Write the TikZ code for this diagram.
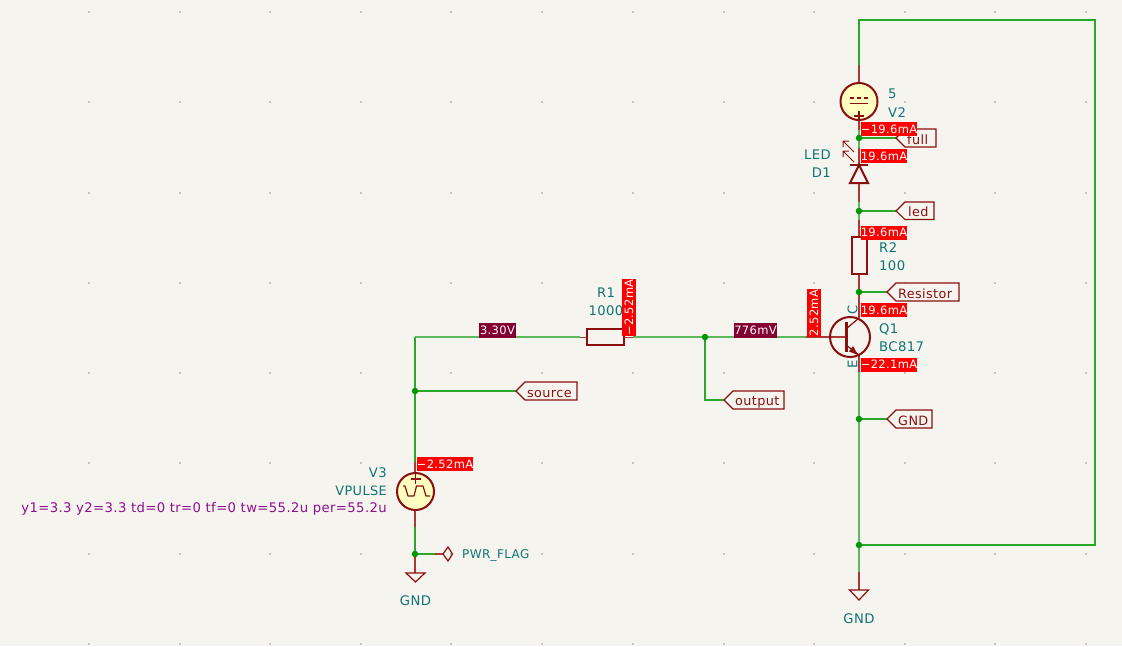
\documentclass[tikz,border=0pt]{standalone}
\usepackage{fontspec}
\setmainfont[LetterSpace=3]{DejaVu Sans}
\usetikzlibrary{arrows.meta}
\definecolor{bgc}{HTML}{F5F4EF}
\definecolor{wirec}{HTML}{2AA82A}
\definecolor{wirep}{HTML}{5CBA5C}
\definecolor{juncc}{HTML}{009600}
\definecolor{symc}{HTML}{8A0F0F}
\definecolor{pinc}{HTML}{A83A3A}
\definecolor{fillc}{HTML}{FFFFC2}
\definecolor{refc}{HTML}{107474}
\definecolor{parc}{HTML}{8E108E}
\definecolor{voltc}{HTML}{840032}
\definecolor{gridc}{HTML}{C4C4C0}
\newcommand{\fs}{\fontsize{13.2}{16}\selectfont}
\newcommand{\fsl}{\fontsize{12.8}{16}\selectfont}
\newcommand{\fsp}{\fontsize{12}{16}\selectfont}
\newcommand{\fst}{\fontsize{11.5}{14}\selectfont}
\tikzset{
  wire/.style={draw=wirec,line width=1.1pt},
  wirem/.style={draw=wirep,line width=1.6pt},
  pinl/.style={draw=pinc,line width=1.2pt},
  body/.style={draw=symc,line width=2pt,line join=miter},
  sym/.style={draw=symc,line width=1.2pt},
  junct/.style={circle,fill=juncc,inner sep=0pt,minimum size=6.5pt},
  lab/.style={draw=symc,line width=1.1pt,line join=miter,fill=bgc},
  ltxt/.style={text=symc,inner sep=0pt,font=\fsl,anchor=west,yshift=-1pt},
  reft/.style={text=refc,inner sep=0pt,font=\fs,yshift=-1pt},
  reftr/.style={text=refc,inner sep=0pt,font=\fs},
  part/.style={text=parc,inner sep=0pt,font=\fs,yshift=-1pt},
  tagbox/.style={fill=red,text=white,inner sep=0pt,font=\fst,minimum height=14pt},
  volt/.style={fill=voltc,text=white,inner sep=0pt,font=\fst,minimum height=15pt},
}
\begin{document}
\begin{tikzpicture}[x=1pt,y=-1pt]
\path[fill=bgc] (0,0) rectangle (1122,646);
\useasboundingbox (0,0) rectangle (1122,646);
% grid
\foreach \gx in {89,180,270,361,451,542,633,724,814,905,995,1086}
  \foreach \gy in {12,102,193,283,373,463,554,644}
    \fill[gridc] (\gx-.7,\gy-.7) rectangle (\gx+.7,\gy+.7);

% named points
\coordinate (jfullc) at (859,138);
\coordinate (tl) at (859,20);
\coordinate (tr) at (1095,20);
\coordinate (br) at (1095,545);
\coordinate (v2top) at (859,65);
\coordinate (v2bot) at (859,120);
\coordinate (dtop) at (859,148);
\coordinate (dbot) at (859,202);
\coordinate (r2top) at (859,220);
\coordinate (r2bot) at (859,274);
\coordinate (ctop) at (859,300);
\coordinate (etop) at (859,372);
\coordinate (gndr) at (859,572);
\coordinate (gndl) at (415,573);
\coordinate (v3top) at (415,462);
\coordinate (v3bot) at (415,527);
\coordinate (r1l) at (580,337);
\coordinate (r1r) at (633,337);
\coordinate (qb) at (806,337);
\coordinate (corner) at (415,337);
\coordinate (oc) at (705,400);
\coordinate (tfull) at (896,138);
\coordinate (tled) at (896,211);
\coordinate (tres) at (887,292);
\coordinate (tgnd) at (887,419);
\coordinate (tsrc) at (516,391);
\coordinate (tout) at (724,400);
\coordinate (pf) at (435,554);
\coordinate (pfe) at (443,554);
\coordinate (jbotc) at (859,545);
\coordinate (jledc) at (859,211);
\coordinate (jresc) at (859,292);
\coordinate (jgndc) at (859,419);
\coordinate (joutc) at (705,337);
\coordinate (jsrcc) at (415,391);
\coordinate (jlowc) at (415,554);

% wires
\draw[wire] (v2top) -- (tl) -- (tr) -- (br) -- (jbotc);
\draw[wirem] (v2bot) -- (dtop);
\draw[wirem] (dbot) -- (r2top);
\draw[wirem] (r2bot) -- (ctop);
\draw[wirem] (etop) -- (gndr);
\draw[wire] (jfullc) -- (tfull);
\draw[wire] (jledc) -- (tled);
\draw[wire] (jresc) -- (tres);
\draw[wire] (jgndc) -- (tgnd);
\draw[wire] (jsrcc) -- (tsrc);
\draw[wire] (joutc) -- (oc) -- (tout);
\draw[wire] (v3top) -- (corner);
\draw[wirem] (corner) -- (r1l);
\draw[wirem] (r1r) -- (qb);
\draw[wire] (v3bot) -- (jlowc) -- (pf);

% symbol pins
\draw[pinl] (v2top) -- (859,83);
\draw[pinl] (v2bot) -- (859,130);
\draw[pinl] (dtop) -- (859,165);
\draw[pinl] (859,183) -- (dbot);
\draw[pinl] (r2top) -- (859,237);
\draw[pinl] (r2bot) -- (ctop);
\draw[pinl] (ctop) -- (859,318);
\draw[pinl] (859,355) -- (etop);
\draw[pinl] (v3top) -- (415,473);
\draw[pinl] (415,510) -- (v3bot);
\draw[pinl,line width=1pt] (r1l) -- (587,337);
\draw[pinl,line width=1pt] (624,337) -- (r1r);
\draw[pinl] (qb) -- (846,337);
\draw[pinl] (pf) -- (pfe);
\draw[pinl] (jlowc) -- (gndl);
\draw[pinl] (gndr) -- (859,590);

% junctions
\node[junct] (jfull) at (jfullc) {};
\node[junct] (jled) at (jledc) {};
\node[junct] (jres) at (jresc) {};
\node[junct] (jgnd) at (jgndc) {};
\node[junct] (jbot) at (jbotc) {};
\node[junct] (jout) at (joutc) {};
\node[junct] (jsrc) at (jsrcc) {};
\node[junct] (jlow) at (jlowc) {};

% V2
\draw[body,fill=fillc] (859,101.5) circle (18.5);
\draw[sym] (850,98) -- (854,98) (857,98) -- (861,98) (864,98) -- (868,98);
\draw[sym] (850,103.5) -- (868,103.5);
\draw[sym] (854,116) -- (864,116) (859,111) -- (859,120);
% LED
\draw[body] (850,165) -- (868,165);
\draw[body] (859,165) -- (868,183) -- (850,183) -- cycle;
\draw[sym,line width=1pt] (854,152) -- (843,141) (843,147) -- (843,141) -- (849,141);
\draw[sym,line width=1pt] (854,162) -- (843,151) (843,157) -- (843,151) -- (849,151);
% R2, R1
\draw[body] (852,237) rectangle (867,274);
\draw[body] (587,329) rectangle (624,345);
% Q1
\draw[body] (850,337) circle (20);
\draw[symc,line width=3pt] (846,322) -- (846,352);
\draw[sym] (846,329) -- (859,318);
\draw[sym] (846,345) -- (859,355);
\fill[symc] (858,355) -- (849,351.5) -- (853,346) -- cycle;
% V3
\draw[body,fill=fillc] (415.5,491.5) circle (18.5);
\draw[sym] (410.5,479) -- (420.5,479) (415.5,474) -- (415.5,484);
\draw[sym,line join=round] (403,486) -- (405,486) -- (408,496) -- (414,496) -- (416.5,486) -- (423,486) -- (426,496) -- (430,496);
% PWR_FLAG
\draw[sym] (443,554) -- (448,547) -- (452.5,554) -- (448,561) -- cycle;
% GND symbols
\draw[sym] (406,573) -- (425,573) -- (415.5,582) -- cycle;
\draw[sym] (849.5,590) -- (868.5,590) -- (859,600) -- cycle;

% hierarchical labels
\draw[lab] (tfull) -- (905,129) -- (936,129) -- (936,147) -- (905,147) -- cycle;
\draw[lab] (tled) -- (905,202) -- (934,202) -- (934,219.5) -- (905,219.5) -- cycle;
\draw[lab] (tres) -- (896,283) -- (959,283) -- (959,301) -- (896,301) -- cycle;
\draw[lab] (tgnd) -- (896,410) -- (932,410) -- (932,428) -- (896,428) -- cycle;
\draw[lab] (tsrc) -- (525,382) -- (577,382) -- (577,400) -- (525,400) -- cycle;
\draw[lab] (tout) -- (733,391) -- (784,391) -- (784,409) -- (733,409) -- cycle;
\node[ltxt] (lfull) at (907,139) {full};
\node[ltxt] (lled) at (908,211) {led};
\node[ltxt] (lres) at (898,292.5) {Resistor};
\node[ltxt] (lgnd) at (898,419.5) {GND};
\node[ltxt] (lsrc) at (527,392.5) {source};
\node[ltxt] (lout) at (735,401.5) {output};

% reference texts
\node[reft,anchor=west] (t5) at (888,93) {5};
\node[reft,anchor=west] (tv2) at (888,111.5) {V2};
\node[reft,anchor=east] (tledn) at (831,154) {LED};
\node[reft,anchor=east] (td1) at (831,172) {D1};
\node[reft,anchor=west] (tr2) at (879,246.5) {R2};
\node[reft,anchor=west] (t100) at (879,265) {100};
\node[reft,anchor=west] (tq1) at (879,328) {Q1};
\node[reft,anchor=west] (tbc) at (879,346) {BC817};
\node[reftr,rotate=90] (tc) at (852.5,310) {C};
\node[reftr,rotate=90] (te) at (852.5,364) {E};
\node[reft] (tr1) at (606,292) {R1};
\node[reft] (t1000) at (606,310) {1000};
\node[reft,anchor=east] (tv3) at (387,472) {V3};
\node[reft,anchor=east,font=\fontsize{12.9}{16}\selectfont] (tvp) at (387,490) {VPULSE};
\node[part,anchor=east] (tpar) at (387,508) {y1=3.3 y2=3.3 td=0 tr=0 tf=0 tw=55.2u per=55.2u};
\node[reft,anchor=west,font=\fsp] (tpf) at (462,554) {PWR\_FLAG};
\node[reft] (tg1) at (415.5,600) {GND};
\node[reft] (tg2) at (859,618) {GND};

% measurement tags
\node[tagbox,minimum width=56pt] (a1) at (889,129) {−19.6mA};
\node[tagbox,minimum width=46pt] (a2) at (884,156) {19.6mA};
\node[tagbox,minimum width=46pt] (a3) at (884,232.5) {19.6mA};
\node[tagbox,minimum width=46pt] (a4) at (884,310) {19.6mA};
\node[tagbox,minimum width=56pt] (a5) at (889,364.5) {−22.1mA};
\node[tagbox,minimum width=56pt] (a6) at (445,464) {−2.52mA};
\node[tagbox,minimum width=48pt,rotate=90] (a7) at (814,313) {2.52mA};
\node[tagbox,minimum width=55pt,rotate=90] (a8) at (629,307.5) {−2.52mA};
\node[volt,minimum width=37pt] (v1) at (497.5,330.5) {3.30V};
\node[volt,minimum width=43pt] (v2) at (755.5,330.5) {776mV};
\end{tikzpicture}
\end{document}
